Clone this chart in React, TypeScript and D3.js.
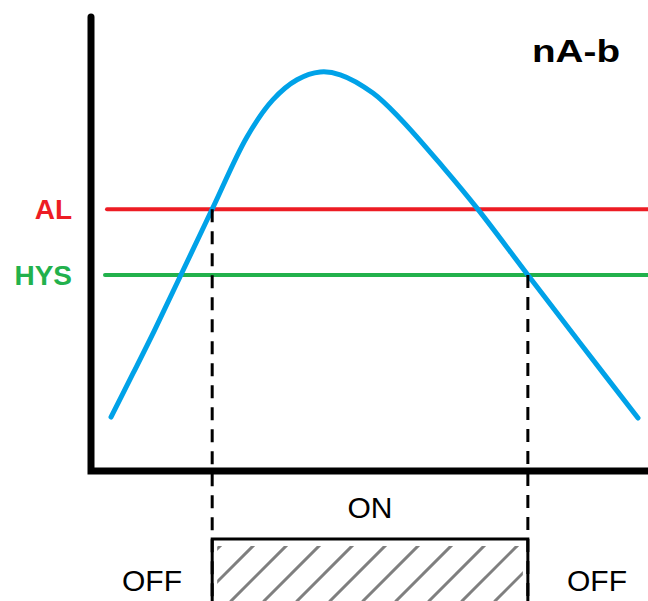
import React from "react";
import * as d3 from "d3";

// ---- data (abstract units: time 0..100, value 0..100) ----
const curveTimes = [0, 4.2, 8.3, 13.1, 19.2, 25.8, 30.7, 35.3, 39.7, 43.5, 49.7, 54.8, 63.0, 69.6, 79.1, 89.0, 100];
const curveValues = [11.8, 21.4, 30.9, 42.5, 57.3, 73.1, 81.2, 85.6, 87.3, 86.7, 82.7, 77.2, 66.5, 57.3, 42.9, 28.0, 11.6];
const thresholdNames = ["AL", "HYS"];
const thresholdValues = [57.3, 42.9];
const thresholdColors = ["#ED1C24", "#22B14C"];
const switchTimes = [19.2, 79.1]; // ON at AL crossing, OFF at HYS crossing
const stateLabels = ["OFF", "ON", "OFF"];
const title = "nA-b";

const W = 648;
const H = 601;
const FONT = "'Liberation Sans', Arial, Helvetica, sans-serif";

export default function App() {
  const x = d3.scaleLinear().domain([0, 100]).range([111, 638]);
  const y = d3.scaleLinear().domain([0, 100]).range([471, 14]);

  const pts: [number, number][] = curveTimes.map((t, i) => [t, curveValues[i]]);
  const line = d3
    .line<[number, number]>()
    .x((d) => x(d[0]))
    .y((d) => y(d[1]))
    .curve(d3.curveCatmullRom.alpha(0.5));

  const axisX = 91;
  const axisY = 471;
  const xOn = x(switchTimes[0]);
  const xOff = x(switchTimes[1]);
  const boxTop = 539;

  // hatch lines: x + y = const, step 33
  const hatchConsts = d3.range(766, 1200, 33);

  return (
    <div style={{ position: "fixed", left: 0, top: 0, width: W, height: H, background: "#fff" }}>
      <svg width={W} height={H} viewBox={`0 0 ${W} ${H}`} style={{ display: "block" }}>
        <defs>
          <clipPath id="hatchClip">
            <rect x={xOn + 5} y={boxTop + 7} width={xOff - xOn - 10} height={H - boxTop} />
          </clipPath>
        </defs>
        <rect x={0} y={0} width={W} height={H} fill="#fff" />

        {/* threshold lines */}
        {thresholdValues.map((v, i) => (
          <line
            key={thresholdNames[i]}
            x1={i === 0 ? 107 : 105}
            x2={W + 4}
            y1={y(v)}
            y2={y(v)}
            stroke={thresholdColors[i]}
            strokeWidth={4}
            strokeLinecap="round"
          />
        ))}

        {/* curve */}
        <path d={line(pts) || ""} fill="none" stroke="#00A2E8" strokeWidth={5} strokeLinecap="round" strokeLinejoin="round" />

        {/* dashed switching lines */}
        <line x1={xOn} x2={xOn} y1={y(thresholdValues[0])} y2={H} stroke="#000" strokeWidth={3} strokeDasharray="13,9" />
        <line x1={xOff} x2={xOff} y1={y(thresholdValues[1])} y2={H} stroke="#000" strokeWidth={3} strokeDasharray="13,9" />

        {/* axes */}
        <path
          d={`M${axisX},17 L${axisX},${axisY} L${W + 5},${axisY}`}
          fill="none"
          stroke="#000"
          strokeWidth={7}
          strokeLinecap="round"
          strokeLinejoin="miter"
        />

        {/* ON box with hatch */}
        <g clipPath="url(#hatchClip)">
          {hatchConsts.map((c) => (
            <line key={c} x1={c - H} y1={H} x2={c - boxTop} y2={boxTop} stroke="#7F7F7F" strokeWidth={3} strokeLinecap="round" />
          ))}
        </g>
        <path
          d={`M${xOn},${H + 5} L${xOn},${boxTop} L${xOff},${boxTop} L${xOff},${H + 5}`}
          fill="none"
          stroke="#000"
          strokeWidth={3}
        />

        {/* labels */}
        {thresholdNames.map((n, i) => (
          <text
            key={n}
            x={72}
            y={y(thresholdValues[i]) + 10}
            textAnchor="end"
            fontFamily={FONT}
            fontWeight="bold"
            fontSize={28}
            fill={thresholdColors[i]}
          >
            {n}
          </text>
        ))}
        <text x={532} y={62} fontFamily={FONT} fontWeight="bold" fontSize={32} textLength={88} lengthAdjust="spacingAndGlyphs" fill="#000">
          {title}
        </text>
        <text x={(xOn + xOff) / 2} y={518} textAnchor="middle" fontFamily={FONT} fontSize={30} fill="#000">
          {stateLabels[1]}
        </text>
        <text x={152} y={591} textAnchor="middle" fontFamily={FONT} fontSize={30} fill="#000">
          {stateLabels[0]}
        </text>
        <text x={597} y={591} textAnchor="middle" fontFamily={FONT} fontSize={30} fill="#000">
          {stateLabels[2]}
        </text>
      </svg>
    </div>
  );
}
